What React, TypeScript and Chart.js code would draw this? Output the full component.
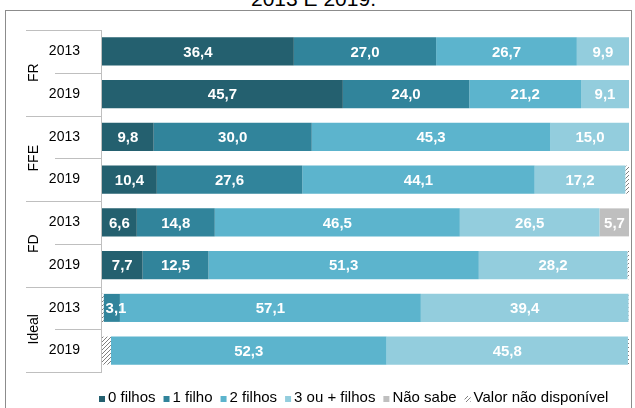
import React, { useEffect, useRef } from 'react';
import { Chart, registerables } from 'chart.js';

Chart.register(...registerables);

const yearLabels = ['2013', '2019', '2013', '2019', '2013', '2019', '2013', '2019'];
const groupLabels = ['FR', 'FFE', 'FD', 'Ideal'];
const seriesNames = ['0 filhos', '1 filho', '2 filhos', '3 ou + filhos', 'Não sabe', 'Valor não disponível'];
const zeroKids = [36.4, 45.7, 9.8, 10.4, 6.6, 7.7, 0, 0];
const oneKid = [27.0, 24.0, 30.0, 27.6, 14.8, 12.5, 3.1, 0];
const twoKids = [26.7, 21.2, 45.3, 44.1, 46.5, 51.3, 57.1, 52.3];
const threePlus = [9.9, 9.1, 15.0, 17.2, 26.5, 28.2, 39.4, 45.8];
const dontKnow = [0, 0, 0, 0, 5.7, 0, 0, 0];
const notAvailableStart = [0, 0, 0, 0, 0, 0, 0.3, 1.7];
const notAvailableEnd = [0, 0, 0, 0.7, 0, 0.3, 0.1, 0.2];
const titleText = '2013 E 2019.';

const FONT = "'Liberation Sans', Arial, sans-serif";
const colors = ['#24606F', '#31849B', '#5CB4CD', '#93CDDD', '#BFBFBF'];

function makeHatch(): CanvasPattern | string {
  const c = document.createElement('canvas');
  c.width = 4;
  c.height = 4;
  const g = c.getContext('2d');
  if (!g) return '#cccccc';
  g.fillStyle = '#ffffff';
  g.fillRect(0, 0, 4, 4);
  g.fillStyle = '#7f7f7f';
  for (let x = 0; x < 4; x++) {
    for (let y = 0; y < 4; y++) {
      if ((x + y) % 4 === 3) g.fillRect(x, y, 1, 1);
    }
  }
  return g.createPattern(c, 'repeat') || '#cccccc';
}

const fmt = (v: number) => v.toFixed(1).replace('.', ',');

export default function App() {
  const ref = useRef<HTMLCanvasElement | null>(null);

  useEffect(() => {
    document.body.style.margin = '0';
    const canvas = ref.current;
    if (!canvas) return;
    const hatch = makeHatch();

    const labelPlugin = {
      id: 'segLabels',
      afterDatasetsDraw(chart: any) {
        const ctx = chart.ctx;
        ctx.save();
        ctx.font = `bold 15px ${FONT}`;
        ctx.fillStyle = '#ffffff';
        ctx.textBaseline = 'middle';
        chart.data.datasets.forEach((ds: any, i: number) => {
          if (!ds.showLabels) return;
          const meta = chart.getDatasetMeta(i);
          meta.data.forEach((bar: any, j: number) => {
            const v = ds.data[j];
            if (!v) return;
            const p = bar.getProps(['x', 'y', 'base'], true);
            const text = fmt(v);
            const w = ctx.measureText(text).width;
            const segW = Math.abs(p.x - p.base);
            if (w + 4 > segW) {
              ctx.textAlign = 'left';
              ctx.fillText(text, Math.min(p.x, p.base) + 2, p.y + 1);
            } else {
              ctx.textAlign = 'center';
              ctx.fillText(text, (p.x + p.base) / 2, p.y + 1);
            }
          });
        });
        ctx.restore();
      },
    };

    const framePlugin = {
      id: 'frame',
      afterDraw(chart: any) {
        const ctx = chart.ctx;
        const y = chart.scales.y;
        const area = chart.chartArea;
        const step = y.getPixelForValue(1) - y.getPixelForValue(0);
        const b = (k: number) => y.getPixelForValue(0) - step / 2 + k * step;
        ctx.save();
        ctx.strokeStyle = '#BFBFBF';
        ctx.lineWidth = 1;
        for (let k = 0; k <= yearLabels.length; k++) {
          const yy = Math.round(b(k)) + 0.5;
          const x0 = k % 2 === 0 ? 26 : 55;
          ctx.beginPath();
          ctx.moveTo(x0, yy);
          ctx.lineTo(area.left, yy);
          ctx.stroke();
        }
        ctx.beginPath();
        ctx.moveTo(area.left - 0.5, Math.round(b(0)));
        ctx.lineTo(area.left - 0.5, Math.round(b(yearLabels.length)) + 1);
        ctx.stroke();

        ctx.fillStyle = '#000000';
        ctx.font = `14px ${FONT}`;
        ctx.textAlign = 'center';
        ctx.textBaseline = 'middle';
        groupLabels.forEach((g, gi) => {
          const cy = (b(gi * 2) + b(gi * 2 + 2)) / 2;
          ctx.save();
          ctx.translate(34, cy);
          ctx.rotate(-Math.PI / 2);
          ctx.fillText(g, 0, 0);
          ctx.restore();
        });

        // legend
        ctx.font = `15px ${FONT}`;
        ctx.textAlign = 'left';
        ctx.textBaseline = 'alphabetic';
        const legendColors: any[] = [...colors, hatch];
        let x = 99;
        const baseY = 402;
        seriesNames.forEach((name, i) => {
          ctx.fillStyle = legendColors[i];
          ctx.fillRect(x, baseY - 6, 6, 6);
          x += 6 + 3;
          ctx.fillStyle = '#000000';
          ctx.fillText(name, x, baseY);
          x += ctx.measureText(name).width + 8;
        });
        ctx.restore();
      },
    };

    const common = { barPercentage: 0.655, categoryPercentage: 1, borderWidth: 0, stack: 's' };
    const chart = new Chart(canvas, {
      type: 'bar',
      data: {
        labels: yearLabels,
        datasets: [
          { label: 'na-start', data: notAvailableStart, backgroundColor: hatch as any, showLabels: false, ...common } as any,
          { label: seriesNames[0], data: zeroKids, backgroundColor: colors[0], showLabels: true, ...common },
          { label: seriesNames[1], data: oneKid, backgroundColor: colors[1], showLabels: true, ...common },
          { label: seriesNames[2], data: twoKids, backgroundColor: colors[2], showLabels: true, ...common },
          { label: seriesNames[3], data: threePlus, backgroundColor: colors[3], showLabels: true, ...common },
          { label: seriesNames[4], data: dontKnow, backgroundColor: colors[4], showLabels: true, ...common },
          { label: seriesNames[5], data: notAvailableEnd, backgroundColor: hatch as any, showLabels: false, ...common } as any,
        ],
      },
      options: {
        indexAxis: 'y',
        responsive: false,
        animation: false,
        devicePixelRatio: 1,
        layout: { padding: { left: 0, right: 6, top: 30, bottom: 36 } },
        plugins: {
          legend: { display: false },
          tooltip: { enabled: false },
          title: { display: false },
        },
        scales: {
          x: { stacked: true, min: 0, max: 100, display: false },
          y: {
            stacked: true,
            grid: { display: false },
            border: { display: false },
            ticks: { font: { family: FONT, size: 14 }, color: '#000000', padding: 14 },
            afterFit: (scale: any) => {
              scale.width = 102;
            },
          },
        },
      } as any,
      plugins: [labelPlugin, framePlugin],
    });
    return () => chart.destroy();
  }, []);

  return (
    <div style={{ position: 'relative', width: 635, height: 408, overflow: 'hidden', background: '#ffffff' }}>
      <div
        style={{
          position: 'absolute',
          top: -12,
          left: 0,
          width: 627,
          textAlign: 'center',
          font: `21px ${FONT}`,
          lineHeight: '21px',
          color: '#000000',
          whiteSpace: 'nowrap',
        }}
      >
        {titleText}
      </div>
      <div
        style={{
          position: 'absolute',
          left: 5,
          top: 10,
          width: 627,
          height: 500,
          border: '1px solid #8c8c8c',
          boxSizing: 'border-box',
        }}
      />
      <canvas ref={ref} width={635} height={408} style={{ position: 'absolute', left: 0, top: 0 }} />
    </div>
  );
}
